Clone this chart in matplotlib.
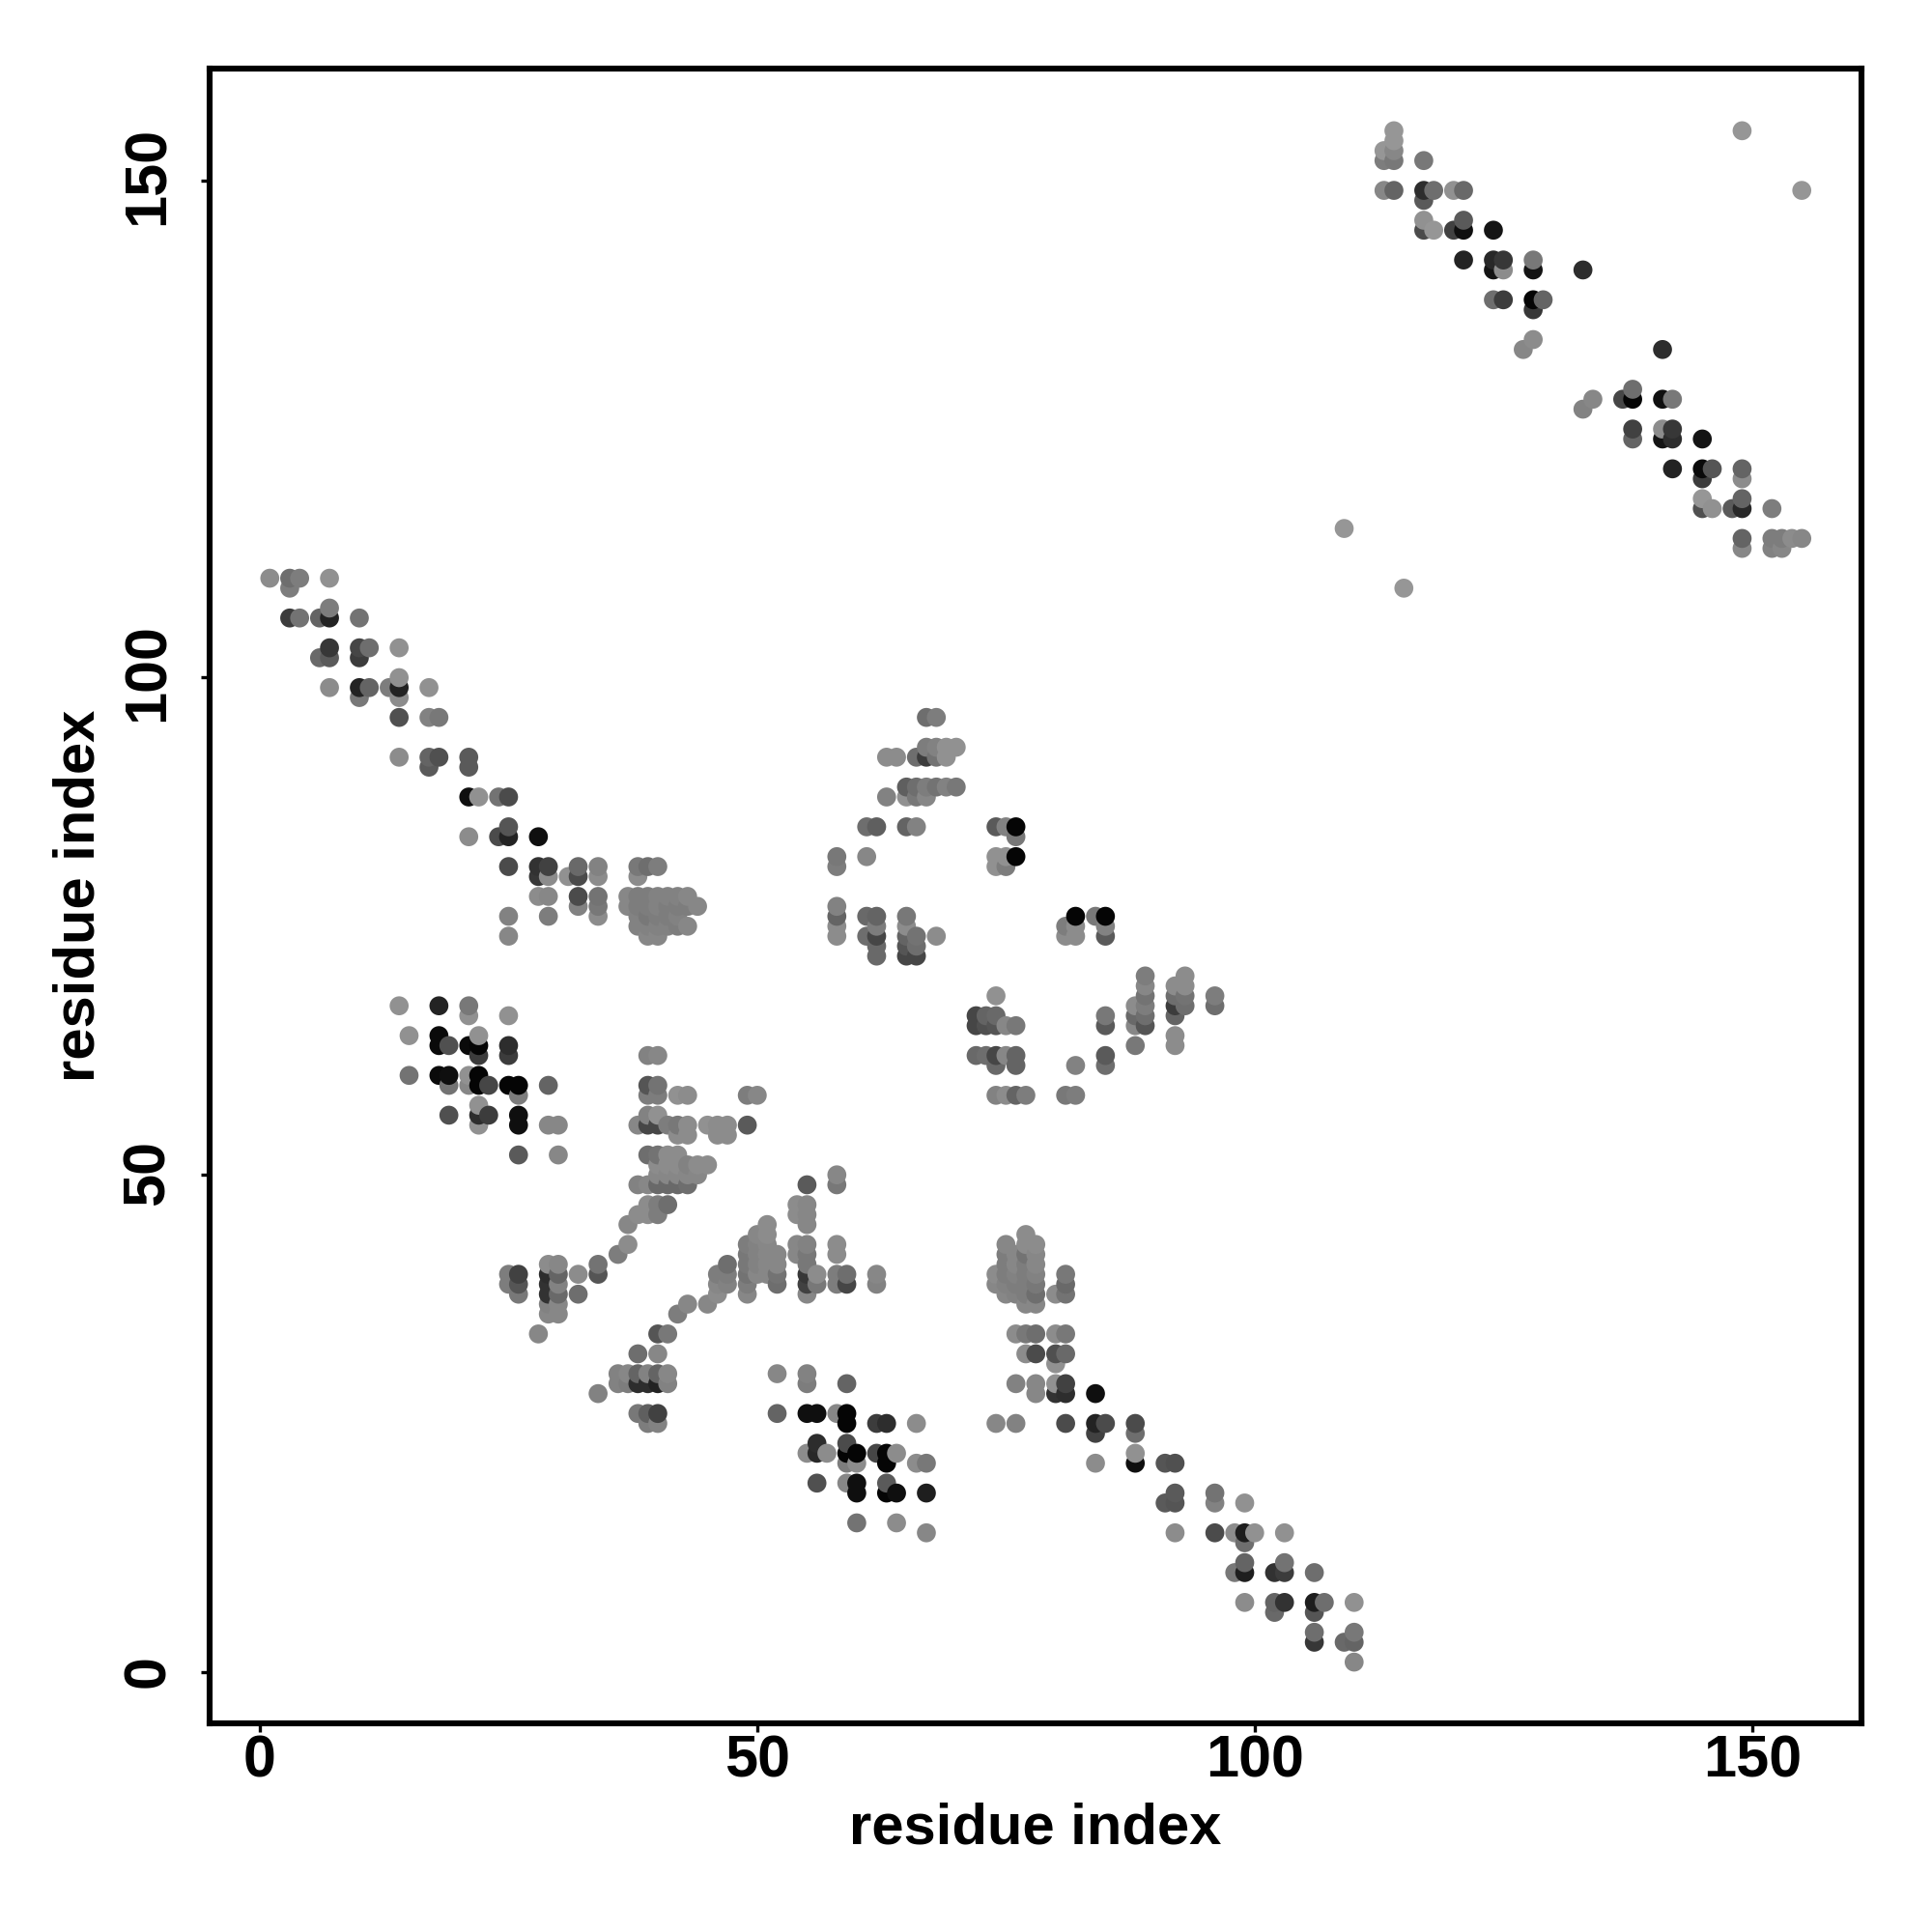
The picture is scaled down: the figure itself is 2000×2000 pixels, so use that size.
import numpy as np
import matplotlib
matplotlib.use("Agg")
import matplotlib.pyplot as plt
from matplotlib.transforms import ScaledTranslation

plt.rcParams['font.family'] = ['Liberation Sans', 'DejaVu Sans']

# Each cluster: row y value, x values in that row, gray level (0-255) of each point
y_upper_left = [110,109,107,106,103,102,100,99,98,96,92,91,88,85,84,81,80,78,77,76,75,74]
x_upper_left = [[1,3,4,7],[3],[7],[3,4,6,7,10],[7,10,11,14],[6,7,10],[14],[7,10,11,13,14,17],[10,14],[14,17,18],
    [14,17,18,21],[17,21],[21,22,24,25],[25],[21,24,25,28],[25,28,29,32,34,38,39,40],[28,29,31,32,34,38],
    [28,29,32,34,37,38,39,40,41,42,43],[32,34,37,38,39,40,41,42,43,44],[25,29,34,38,39,40,41,42],
    [38,39,40,41,42,43],[25,39,40]]
g_upper_left = [[140,110,125,145],[125],[125],[60,115,100,35,115],[55,70,110,145],[105,90,60],[145],[140,35,100,125,35,145],[120,140],[80,130,120],
    [140,100,80,90],[90,90],[15,145,115,75],[85],[140,75,35,15],[75,50,65,105,130,120,110,125],[55,140,145,75,140,140],
    [140,135,75,115,135,125,125,130,130,130,135],[130,120,135,125,125,130,125,125,125,135],[130,125,140,130,120,125,125,130],
    [130,130,130,130,125,135],[135,135,135]]

y_center = [96,93,92,89,88,85,84,82,81,77,76,75,74,73,72,70,69,68,67,66,65,64,63,62,61,58]
x_center = [[67,68],[67,68,69,70],[63,64,66,67,68,69],[65,66,67,68,69,70],[63,65,66,67],[61,62,65,66,74,75,76],[76],
    [58,61,74,75,76],[58,74,75],[58],[58,61,62,65,82,84,85],[58,62,65,81,82,85],[58,61,62,65,66,68,81,82,85],[62,65,66],[62,65,66],
    [89,93],[89,92,93],[74,89,92,93,96],[88,89,92,93,96],[72,73,74,85,88,89,92],[72,73,74,75,76,85,88,89],[92],[88,92],
    [72,73,74,75,76,85],[74,76,82,85],[74,75,76,77,81,82]]
g_center = [[110,125],[125,130,145,145],[140,140,110,60,115,145],[95,110,125,115,130,120],[130,145,120,135],[110,95,100,130,90,130,5],[120],
    [120,135,145,145,5],[125,145,125],[130],[100,105,100,120,5,120,5],[140,125,140,125,140,130],[140,110,70,100,115,140,140,140,90],[105,85,110],[105,70,70],
    [125,140],[135,140,140],[145,115,110,115,125],[140,125,60,110,110],[70,100,105,120,105,110,100],[70,80,85,135,120,90,135,85],[140],[120,140],
    [105,110,70,135,100,90],[105,100,130,110],[130,140,100,125,120,125]]

y_left_mid = [67,66,64,63,62,60,59,58,57,56,55,54,52,51,50,49,47,46,45,43,42,41,40,39,38,37,36,34,32,30,29,28,26,25]
x_left_mid = [[14,18,21],[21,25],[15,18,22],[18,19,21,22,25,],[22,25,39,40],[15,18,19,21,22],[19,21,22,23,25,26,29,39,40],
    [26,39,40,42,43,49,50],[22],[19,22,23,26,39,40],[22,26,29,30,38,39,40,41,42,43,45,46,47,49],[42,43,46,47],
    [26,30,39,40,41,42],[40,41,42,43,44,45],[40,41,42,43,44],[38,39,40,41,42,43],[39,40,41],[38,39,40],[37],[37],[36],
    [29,30,34],[25,26,29,30,32,34],[25,26,29,30],[26,29,30,32],[29,30],[29,30],[28,40,41],[38,40],[36,37,38,39,40,41],[36,37,38,39,40,41],[34],[38,39,40],[39,40]]
g_left_mid = [[145,35,120],[145,145],[145,10,145],[10,80,10,5,45],[60,60,130,135],[115,10,15,145,5],[115,135,5,70,5,5,100,85,115],
    [125,125,125,145,140,125,135],[145],[80,45,60,15,130,145],[145,15,135,135,135,70,70,125,120,140,145,140,140,90],[140,140,140,140],
    [90,135,110,115,140,140],[140,140,140,130,140,140],[135,135,135,135,135],[130,135,105,105,105,110],[140,125,110],[140,140,125],[135],[140],[125],
    [140,135,115],[125,65,45,100,140,85],[125,85,50,130],[120,50,105,110],[130,135],[135,135],[135,85,120],[110,135],[130,135,100,130,100,135],[130,125,45,45,35,130],[130],[120,95,65],[125,130]]

y_hill = [50,49,47,46,45,44,43,42,41,40,39,38,37,36,30,29,26,25,23,22,21,19,18,15,14]
x_hill = [[58],[55,58],[54,55],[54,55],[51,55],[50,51],[49,50,51,54,55,58],[49,50,51,52,54,55,58],[47,49,50,51,52,55],
    [46,47,49,50,51,52,55,56,58,59,62],[46,47,49,52,55,56,58,59,62],[46,49,55],[43,45],[42],[52,55],[55,59],[52,55,56,58,59],
    [59,62,63,66],[56,59],[55,56,57,59,60,62,63,64],[59,60,63,66,67],[56,59,60,63],[60,63,64,67],[60,64],[67]]
g_hill = [[135],[90,120],[140,135],[140,135],[140,135],[135,140],[125,130,135,135,130,140],[120,130,135,135,135,120,140],[110,120,130,135,135,120],
    [125,125,115,135,135,115,55,140,125,110,135],[135,130,125,110,65,120,125,70,130],[140,135,135],[135,135],[125],[135,130],[125,100],[100,15,15,135,5],
    [5,60,45,140],[45,75],[140,40,140,5,5,70,5,140],[125,140,5,140,120],[80,135,15,90],[15,5,15,30],[115,140],[135]]

y_lower_right = [44,43,42,41,40,39,38,37,34,32,31,29,28,25,24,22,21,18,17,14,13,11,10,7,6,4,3,1]
x_lower_right = [[77],[75,77,78],[75,76,77,78],[75,76,77,78],[74,75,76,77,78,81],[74,75,76,77,78,81],[75,76,77,78,80,81],[77,78],
    [76,77,78,80,81],[77,78,80,81],[80],[76,78,80,81],[78,80,81,84],[74,76,81,84,85,88],[84,88],[88],[84,88,91,92],[92,96],[91,92,96,99],
    [92,96,98,99,100,103],[99],[99,103],[98,99,102,103,106],[99,102,103,106,107,110],[102,106],[106,110],[106,109,110],[110]]
g_lower_right = [[140],[135,140,140],[125,135,115,135],[125,135,125,135],[140,125,130,125,130,120],[135,130,125,125,120,105],[135,130,125,110,140,115],[135,135],
    [140,120,110,140,120],[140,75,80,105],[145],[130,135,145,65],[135,50,45,15],[135,130,75,35,75,75],[65,110],[145],[140,15,85,80],[90,115],[90,85,130,145],
    [140,75,140,30,145,145],[110],[100,115],[120,30,50,60,110],[140,100,50,30,110,145],[105,85],[110,120],[55,105,100],[135]]

y_upper_right = [155,154,153,152,149,148,146,145,142,141,138,137,134,133,129,128,127,125,124,121,120,118,117,115,114,113,109]
x_upper_right = [[114,149],[114],[113,114],[113,114,117],[113,114,117,118,120,121,155],[117],[117,121],[117,118,120,121,124],
    [121,124,125,128],[124,125,128,133],[124,125,128,129],[128],[128],[127,141],[138],[134,137,138,141,142],[133],[138,141,142],
    [138,141,142,145],[142,145,146,149],[145,149],[145,149],[145,146,148,149,152],[109],[149,152,153,154,155],[149,152,153],[115]]
g_upper_right = [[150,150],[150],[150,135],[125,120,120],[135,100,45,110,145,105,150],[90],[145,90],[75,150,65,15,20],
    [35,40,55,120],[20,140,20,45],[110,60,5,100],[55],[140],[135,45],[110],[135,70,5,15,120],[130],[65,140,55],
    [100,20,45,20],[35,10,85,100],[60,140],[150,100],[80,145,90,40,125],[150],[100,125,125,140,135],[135,130,135],[150]]

tick_values = [0, 50, 100, 150]
axis_label = "residue index"

clusters = [
    (y_upper_left, x_upper_left, g_upper_left),
    (y_center, x_center, g_center),
    (y_left_mid, x_left_mid, g_left_mid),
    (y_hill, x_hill, g_hill),
    (y_lower_right, x_lower_right, g_lower_right),
    (y_upper_right, x_upper_right, g_upper_right),
]

xs, ys, gs = [], [], []
for rows, xrows, grows in clusters:
    assert len(rows) == len(xrows) == len(grows), (len(rows), len(xrows), len(grows))
    for r, xr, gr in zip(rows, xrows, grows):
        assert len(xr) == len(gr), (r, xr, gr)
        xs += xr
        ys += [r] * len(xr)
        gs += gr
xs, ys, gs = np.array(xs), np.array(ys), np.array(gs)
order = np.lexsort((ys, xs))
colors = [(g / 255, g / 255, g / 255) for g in gs[order]]

fig = plt.figure(figsize=(20, 20), dpi=100, facecolor='white')
ax = fig.add_axes([217 / 2000, 1 - 1784 / 2000, 1710 / 2000, 1713 / 2000])
ax.scatter(xs[order], ys[order], s=200, c=colors, linewidths=0, zorder=3)
ax.set_xlim(-5.05, 161.0)
ax.set_ylim(-5.16, 161.25)
ax.set_xticks(tick_values)
ax.set_yticks(tick_values)
ax.tick_params(axis='both', length=6.5, width=2.4, labelsize=44)
ax.tick_params(axis='x', pad=2)
ax.tick_params(axis='y', pad=18)
for t in ax.get_xticklabels() + ax.get_yticklabels():
    t.set_fontweight('bold')
for t, up in zip(ax.get_yticklabels(), [1, 2, 5, 5]):
    t.set_rotation(90)
    t.set_va('center')
    t.set_transform(t.get_transform() + ScaledTranslation(0, up / 100, fig.dpi_scale_trans))
for s in ax.spines.values():
    s.set_linewidth(4.4)
ax.set_xlabel(axis_label, fontsize=43, fontweight='bold', labelpad=9.4)
ax.set_ylabel(axis_label, fontsize=43, fontweight='bold', labelpad=11.8)
fig.savefig('out.png', dpi=100)
